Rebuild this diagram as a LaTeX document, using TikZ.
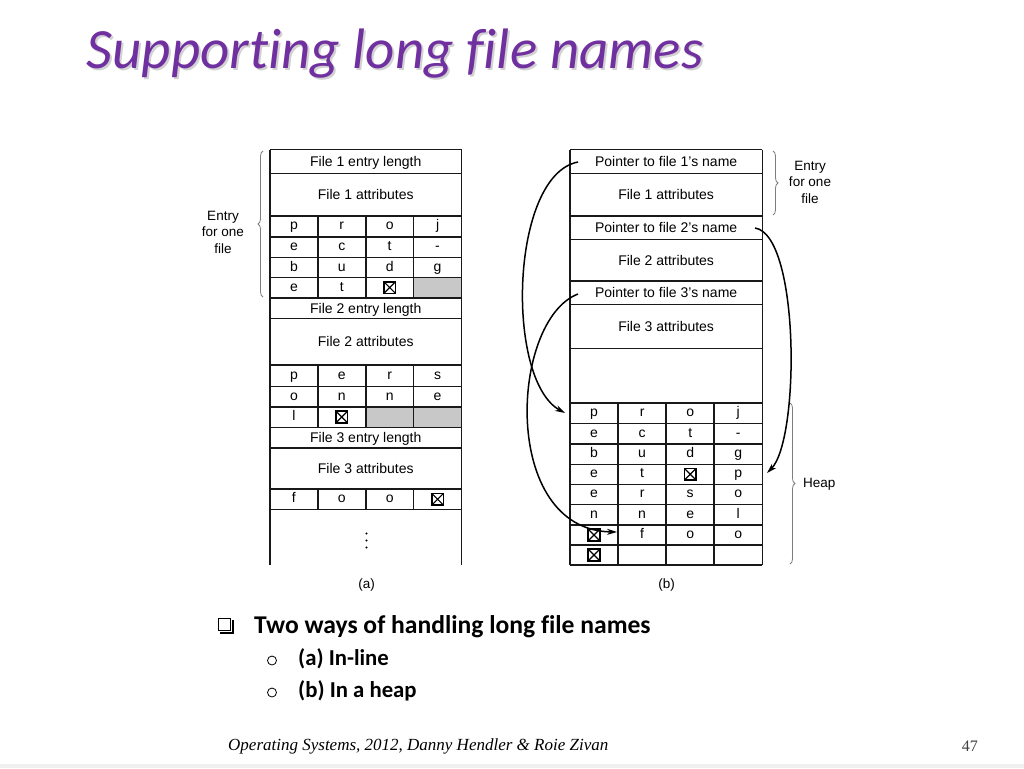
\documentclass[tikz,border=0pt]{standalone}
\usepackage{fontspec}
\setmainfont{Liberation Sans}
\newfontfamily\calibri[Ligatures=NoCommon]{Carlito}
\newfontfamily\timesf{Liberation Serif}
\usetikzlibrary{arrows.meta,decorations.pathreplacing}
\definecolor{titlepurple}{RGB}{112,48,160}
\definecolor{cellgray}{RGB}{200,200,200}
\definecolor{bracegray}{RGB}{125,125,125}
\newcommand\arow[3]{\foreach \c/\t in {#3} {\node[cell] (a#1c\c) at ({270+47.875*(\c-0.5)},{#2+3.6}) {\t};}}
\newcommand\brow[3]{\foreach \c/\t in {#3} {\node[cell] (b#1c\c) at ({570+48.075*(\c-0.5)},{#2+3.6}) {\t};}}
\begin{document}
\begin{tikzpicture}[x=1pt,y=-1pt,
  grid/.style={line width=1.6pt, draw=black!90},
  cell/.style={font=\fontsize{14}{16}\selectfont, inner sep=0pt, anchor=base},
  lbl/.style={font=\fontsize{13.5}{16.5}\selectfont, align=center, inner sep=0pt},
  xbox/.style={draw, line width=1.6pt, minimum size=11.5pt, inner sep=0pt,
    path picture={\draw[line width=1.2pt] (path picture bounding box.south west) -- (path picture bounding box.north east)
      (path picture bounding box.north west) -- (path picture bounding box.south east);}},
  brc/.style={decorate, decoration={brace, amplitude=5pt}, draw=bracegray, line width=0.8pt},
  ptr/.style={line width=1.5pt, -{Stealth[length=10pt,width=6pt]}},
  dotn/.style={circle, fill=black, inner sep=0pt, minimum size=2.4pt},
  obul/.style={circle, draw, line width=0.8pt, minimum size=9pt, inner sep=0pt},
  subtxt/.style={font=\calibri\bfseries\fontsize{22.75}{26}\selectfont, anchor=base west, inner sep=0pt},
]
\useasboundingbox (0,0) rectangle (1024,768);
\fill[white] (0,0) rectangle (1024,768);
\fill[gray!12] (0,764) rectangle (1024,768);

% ---------- title ----------
\node[font=\calibri\itshape\fontsize{57}{60}\selectfont, text=gray!35, anchor=base west, inner sep=0pt] (titlesh) at (88.5,70.5) {Supporting long file names};
\node[font=\calibri\itshape\fontsize{57}{60}\selectfont, text=titlepurple, anchor=base west, inner sep=0pt] (title) at (86.5,68.5) {Supporting long file names};

% ---------- table (a) ----------
\fill[cellgray] (413.625,277.5) rectangle (461.5,297.7);
\fill[cellgray] (365.75,406.7) rectangle (461.5,427.3);
\draw[grid] (270,149.5) -- (270,565) (461.5,149.5) -- (461.5,565);
\foreach \yy in {149.5,173.3,216,236.7,257.3,277.5,297.7,318.5,365,386.5,406.7,427.3,447.7,489,509.5}
  \draw[grid] (270,\yy) -- (461.5,\yy);
\foreach \xx in {317.875,365.75,413.625}
  \draw[grid] (\xx,216) -- (\xx,297.7) (\xx,365) -- (\xx,427.3) (\xx,489) -- (\xx,509.5);

\node[cell] (ae1) at (365.75,166.4) {File 1 entry length};
\node[cell] (aat1) at (365.75,199.6) {File 1 attributes};
\arow{1}{226.35}{1/p,2/r,3/o,4/j}
\arow{2}{247}{1/e,2/c,3/t,4/-}
\arow{3}{267.4}{1/b,2/u,3/d,4/g}
\arow{4}{287.6}{1/e,2/t}
\node[xbox] (ax4) at (389.7,287.6) {};
\node[cell] (ae2) at (365.75,313.1) {File 2 entry length};
\node[cell] (aat2) at (365.75,346.7) {File 2 attributes};
\arow{5}{375.75}{1/p,2/e,3/r,4/s}
\arow{6}{396.6}{1/o,2/n,3/n,4/e}
\arow{7}{417}{1/l}
\node[xbox] (ax7) at (341.8,417) {};
\node[cell] (ae3) at (365.75,442.5) {File 3 entry length};
\node[cell] (aat3) at (365.75,473.3) {File 3 attributes};
\arow{8}{499.25}{1/f,2/o,3/o}
\node[xbox] (ax8) at (437.6,499.25) {};
\node[dotn] (d1) at (366.5,533.5) {};
\node[dotn] (d2) at (366.5,540.5) {};
\node[dotn] (d3) at (366.5,547.5) {};
\node[lbl] (capa) at (366.5,585) {(a)};

\draw[brc] (263,297) -- (263,151);
\node[lbl] (laba) at (223,232) {Entry\\for one\\file};

% ---------- table (b) ----------
\draw[grid] (570,149.5) -- (570,565) (762.3,149.5) -- (762.3,565);
\foreach \yy in {149.5,173.3,216,239.3,281,304.3,348.3,402.7,423.3,444,464.3,484.3,504.3,525,545,565}
  \draw[grid] (570,\yy) -- (762.3,\yy);
\foreach \xx in {618.075,666.15,714.225}
  \draw[grid] (\xx,402.7) -- (\xx,565);

\node[cell] (bp1) at (666.15,166.4) {Pointer to file 1's name};
\node[cell] (bat1) at (666.15,199.6) {File 1 attributes};
\node[cell] (bp2) at (666.15,232.65) {Pointer to file 2's name};
\node[cell] (bat2) at (666.15,265.15) {File 2 attributes};
\node[cell] (bp3) at (666.15,297.65) {Pointer to file 3's name};
\node[cell] (bat3) at (666.15,331.3) {File 3 attributes};
\brow{1}{413}{1/p,2/r,3/o,4/j}
\brow{2}{433.65}{1/e,2/c,3/t,4/-}
\brow{3}{454.15}{1/b,2/u,3/d,4/g}
\brow{4}{474.3}{1/e,2/t,4/p}
\node[xbox] (bx4) at (690.2,474.3) {};
\brow{5}{494.3}{1/e,2/r,3/s,4/o}
\brow{6}{514.65}{1/n,2/n,3/e,4/l}
\brow{7}{535}{2/f,3/o,4/o}
\node[xbox] (bx7) at (594,535) {};
\node[xbox] (bx8) at (594,555) {};
\node[lbl] (capb) at (666.5,585) {(b)};

\draw[brc] (773,151) -- (773,215);
\node[lbl] (labb) at (810,182) {Entry\\for one\\file};
\draw[brc] (790,403) -- (790,564);
\node[lbl, anchor=west] (heap) at (803,484) {Heap};

% ---------- pointers ----------
\coordinate (s1) at (578,162);
\coordinate (t1) at (565,413);
\coordinate (s2) at (755,228);
\coordinate (t2) at (767,473);
\coordinate (s3) at (578,294);
\coordinate (t3) at (617,532);
\draw[ptr] (s1) .. controls (510,175) and (505,380) .. (t1);
\draw[ptr] (s2) .. controls (800,235) and (800,440) .. (t2);
\draw[ptr] (s3) .. controls (510,320) and (500,530) .. (t3);

% ---------- bullets ----------
\draw[line width=1.2pt] (218.5,618.5) rectangle (230.5,630.5);
\draw[line width=2pt] (232.5,620) -- (232.5,632.5) -- (220,632.5);
\node[font=\calibri\bfseries\fontsize{25.6}{28}\selectfont, anchor=base west, inner sep=0pt] (main) at (254,633) {Two ways of handling long file names};
\node[obul] (o1) at (272,660.5) {};
\node[subtxt] (suba) at (298,665) {(a) In-line};
\node[obul] (o2) at (272,692.5) {};
\node[subtxt] (subb) at (298,697) {(b) In a heap};

% ---------- footer ----------
\node[font=\timesf\itshape\fontsize{17}{19}\selectfont, anchor=base west, inner sep=0pt] (foot) at (228,750) {Operating Systems, 2012, Danny Hendler \& Roie Zivan};
\node[font=\timesf\fontsize{16}{18}\selectfont, text=black!75, anchor=base east, inner sep=0pt] (page) at (978,751) {47};
\end{tikzpicture}
\end{document}
